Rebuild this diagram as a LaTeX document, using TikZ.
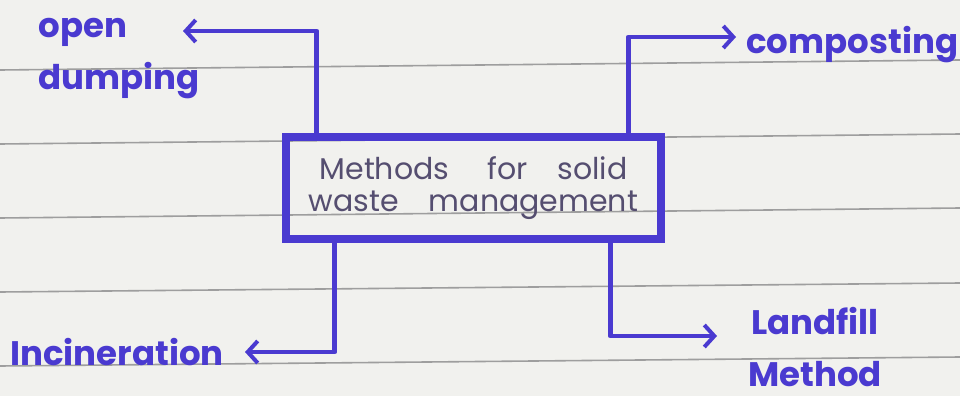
\documentclass[tikz,border=0pt]{standalone}
\usepackage{fontspec}
\setmainfont{Poppins}
\usetikzlibrary{arrows.meta,positioning}
\definecolor{ink}{HTML}{4A3AD0}
\definecolor{pencil}{HTML}{554E70}
\definecolor{paper}{HTML}{F1F1EE}
\definecolor{ruling}{HTML}{9E9E9E}
\tikzset{
  pen/.style={ink, line width=2.4pt, line join=round,
    -{Straight Barb[length=5pt,width=11pt,line width=2pt]}},
  tag/.style={ink, font=\fontsize{17}{26}\selectfont\bfseries, inner sep=0pt},
  methodbox/.style={draw=ink, line width=3.2pt, minimum width=188.5pt,
    minimum height=52pt, inner sep=0pt, text=pencil, align=center,
    font=\fontsize{15}{16}\selectfont}
}

\begin{document}
\begin{tikzpicture}[x=0.5pt,y=-0.5pt]
    \useasboundingbox[fill=paper] (0,0) rectangle (960,396);
    % ruled lines of the page
    \foreach \l/\r in {70/60, 144/134, 218/208, 292/283, 366/357}
        \draw[ruling, line width=0.8pt] (0,\l) -- (960,\r);

    \node[methodbox] (box) at (473.5,188)
        {Methods\quad\ for\quad solid\\waste\quad management};
    \draw[ink, line width=1.3pt] ([shift={(3.5pt,-3.5pt)}]box.north west)
        rectangle ([shift={(-3.5pt,3.5pt)}]box.south east);

    \node[tag, anchor=north west, align=left] (dump) at (38,18) {open\\dumping};
    \node[tag, anchor=west] (compost) at (746,45) {composting};
    \node[tag, anchor=west] (incin) at (10,352) {Incineration};
    \node[tag, anchor=north, align=center] (landfill) at (815,307) {Landfill\\Method};

    \coordinate (dumpend) at (183,31);
    \coordinate (compostend) at (736,37);
    \coordinate (incinend) at (245,352);
    \coordinate (landfillend) at (717,336);

    \draw[pen] ([xshift=17.5pt]box.north west) |- (dumpend);
    \draw[pen] ([xshift=-18.5pt]box.north east) |- (compostend);
    \draw[pen] ([xshift=26.5pt]box.south west) |- (incinend);
    \draw[pen] ([xshift=-27.5pt]box.south east) |- (landfillend);
\end{tikzpicture}
\end{document}
